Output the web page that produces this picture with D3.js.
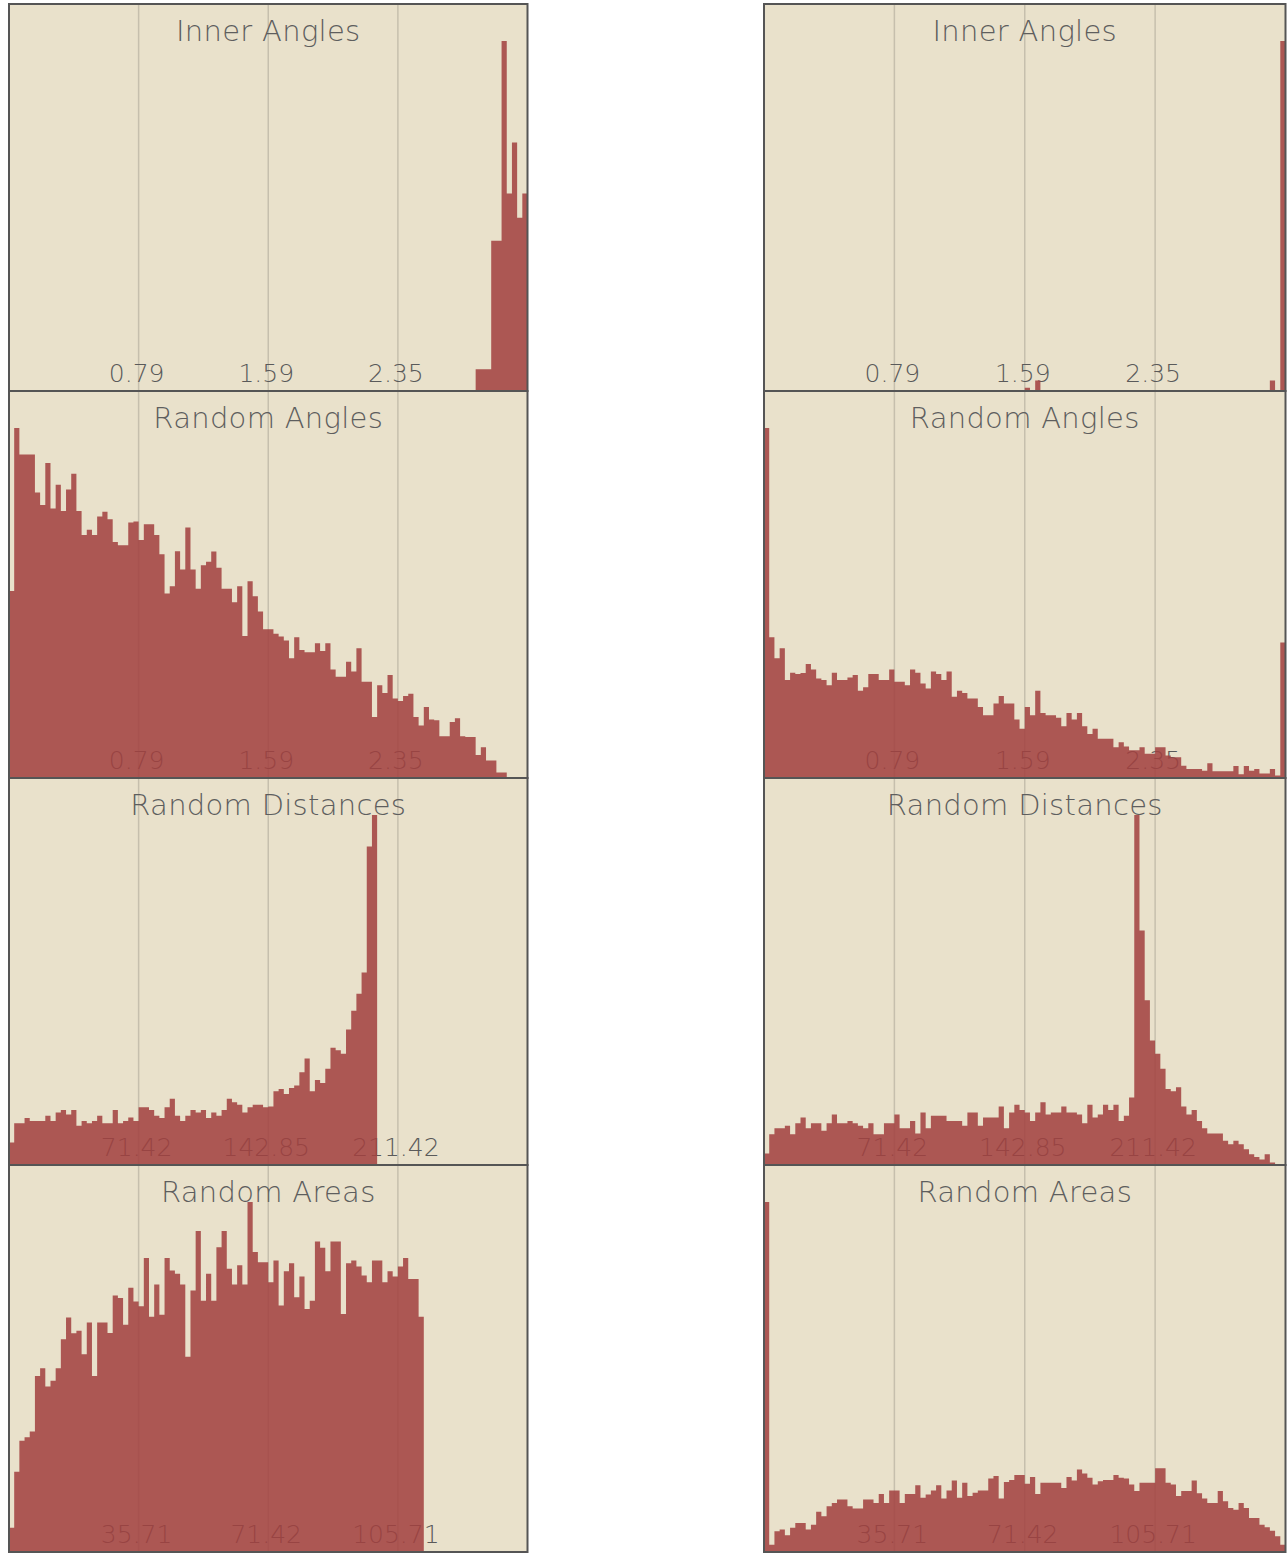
<!DOCTYPE html>
<html>
<head>
<meta charset="utf-8">
<title>Angle, distance and area histograms</title>
<script src="https://d3js.org/d3.v7.min.js"></script>
<style>
  body { margin: 0; background-color: white; }
  svg { display: block; }
</style>
</head>
<body>
<svg id="canvas" width="1288" height="1553"></svg>
<script>
// panel titles, one per row
const titles = ['Inner Angles', 'Random Angles', 'Random Distances', 'Random Areas']
// upper end of each row's x range
const rangeMax = [Math.PI, Math.PI, 285.7, 142.85]
// tick labels at the quarter marks
const angleTicks = ['0.79', '1.59', '2.35']
const distanceTicks = ['71.42', '142.85', '211.42']
const areaTicks = ['35.71', '71.42', '105.71']

// bin heights as percent of the tallest bin, 100 bins each
const innerAnglesLeft = [
  0, 0, 0, 0, 0, 0, 0, 0, 0, 0, 0, 0, 0, 0, 0, 0, 0, 0, 0, 0,
  0, 0, 0, 0, 0, 0, 0, 0, 0, 0, 0, 0, 0, 0, 0, 0, 0, 0, 0, 0,
  0, 0, 0, 0, 0, 0, 0, 0, 0, 0, 0, 0, 0, 0, 0, 0, 0, 0, 0, 0,
  0, 0, 0, 0, 0, 0, 0, 0, 0, 0, 0, 0, 0, 0, 0, 0, 0, 0, 0, 0,
  0, 0, 0, 0, 0, 0, 0, 0, 0, 0, 6.2, 6.2, 6.2, 42.9, 42.9, 100, 56.4, 71, 49.5, 56.4
]
const innerAnglesRight = [
  0, 0, 0, 0, 0, 0, 0, 0, 0, 0, 0, 0, 0, 0, 0, 0, 0, 0, 0, 0,
  0, 0, 0, 0, 0, 0, 0, 0, 0, 0, 0, 0, 0, 0, 0, 0, 0, 0, 0, 0,
  0, 0, 0, 0, 0, 0, 0, 0, 0, 0, 0.9, 0, 3, 0, 0, 0, 0, 0, 0, 0,
  0, 0, 0, 0, 0, 0, 0, 0, 0, 0, 0, 0, 0, 0, 0, 0, 0, 0, 0, 0,
  0, 0, 0, 0, 0, 0, 0, 0, 0, 0, 0, 0, 0, 0, 0, 0, 0, 3, 0, 100
]
const randomAnglesLeft = [
  53.4, 100, 92.4, 92.4, 92.4, 81.6, 78.0, 90.0, 77.0, 83.8,
  76.3, 82.4, 86.9, 76.3, 69.4, 70.9, 69.4, 74.7, 76.1, 73.9,
  67.4, 66.5, 66.5, 73.0, 73.3, 68.0, 72.5, 72.5, 69.4, 63.9,
  52.7, 54.8, 64.8, 59.6, 71.6, 59.6, 54.1, 60.8, 61.8, 64.7,
  60.1, 54.1, 54.1, 50.2, 54.8, 40.6, 56.2, 51.9, 47.6, 42.5,
  42.5, 41.2, 40.4, 39.3, 34.2, 40.2, 36.6, 35.9, 35.9, 38.5,
  36.3, 38.5, 31.0, 28.9, 28.9, 33.2, 30.4, 37.1, 27.5, 27.5,
  17.4, 26.5, 24.3, 29.4, 22.7, 22.0, 23.4, 24.1, 17.4, 15.0,
  20.3, 16.7, 16.5, 11.9, 11.9, 16.0, 17.1, 11.9, 11.7, 11.7,
  6.6, 8.8, 5.0, 5.0, 1.6, 1.6, 0, 0, 0, 0
]
const randomAnglesRight = [
  100, 40.2, 34.2, 37.1, 28.0, 30.1, 29.7, 30.0, 32.6, 31.0,
  28.4, 28.0, 26.5, 30.1, 28.0, 28.0, 28.7, 29.4, 24.9, 25.9,
  29.7, 29.7, 28.0, 28.0, 31.0, 27.5, 27.5, 26.5, 31.0, 30.1,
  27.0, 25.6, 30.4, 29.7, 28.0, 30.4, 23.2, 24.9, 24.3, 22.7,
  22.7, 20.3, 17.9, 17.9, 21.3, 23.4, 21.3, 21.3, 16.7, 14.1,
  20.3, 17.9, 24.9, 18.6, 17.9, 17.9, 17.2, 14.8, 18.6, 16.7,
  18.6, 14.8, 12.6, 14.1, 11.2, 11.2, 11.2, 8.8, 10.2, 9.0,
  7.9, 7.9, 8.8, 6.9, 6.9, 8.8, 8.8, 6.4, 5.9, 5.9,
  3.5, 2.6, 2.6, 2.6, 2.1, 4.2, 1.9, 1.9, 1.9, 1.9,
  3.4, 1.1, 3.4, 2.1, 2.6, 1.3, 1.3, 2.6, 0.7, 38.7
]
const randomDistancesLeft = [
  6.4, 11.9, 11.9, 13.4, 12.6, 12.6, 12.6, 14.1, 12.6, 15.0,
  15.7, 14.4, 15.7, 11.2, 12.6, 11.9, 12.6, 14.1, 11.9, 11.9,
  15.7, 11.9, 12.6, 13.6, 12.6, 16.5, 16.5, 15.7, 14.1, 13.4,
  16.5, 18.9, 14.1, 12.6, 14.1, 15.7, 15.0, 15.7, 13.4, 15.0,
  14.1, 15.7, 18.9, 17.9, 17.2, 15.0, 16.5, 17.2, 17.2, 16.5,
  16.7, 21.1, 21.7, 20.3, 22.0, 22.7, 26.5, 30.4, 21.1, 24.3,
  23.4, 27.5, 33.5, 32.8, 31.8, 38.7, 44.1, 48.9, 55.0, 91.0,
  100, 0, 0, 0, 0, 0, 0, 0, 0, 0,
  0, 0, 0, 0, 0, 0, 0, 0, 0, 0,
  0, 0, 0, 0, 0, 0, 0, 0, 0, 0
]
const randomDistancesRight = [
  3.3, 8.8, 10.5, 10.5, 11.2, 8.8, 11.9, 13.6, 10.5, 11.9,
  11.9, 9.8, 11.9, 14.4, 11.9, 11.9, 12.6, 11.9, 11.2, 10.5,
  11.9, 8.8, 8.8, 11.9, 11.9, 14.4, 10.5, 10.5, 12.6, 9.0,
  15.0, 10.5, 14.1, 14.1, 14.1, 12.6, 12.6, 12.6, 11.2, 15.0,
  15.0, 11.2, 13.6, 13.6, 13.6, 16.7, 10.5, 15.0, 17.2, 15.7,
  15.0, 12.6, 15.0, 17.9, 14.4, 15.0, 15.0, 16.7, 15.0, 15.0,
  14.4, 11.9, 17.2, 13.6, 14.4, 17.2, 15.7, 17.2, 12.6, 14.1,
  19.3, 100, 67.0, 47.1, 35.6, 31.8, 27.5, 21.7, 21.1, 22.2,
  16.7, 14.4, 15.7, 12.6, 10.5, 9.0, 9.0, 9.0, 6.9, 5.9,
  6.9, 5.9, 4.5, 3.1, 2.3, 1.6, 3.1, 0.7, 0, 0
]
const randomAreasLeft = [
  6.9, 22.9, 31.8, 32.8, 34.4, 50.3, 52.5, 47.3, 48.9, 52.5,
  60.8, 67.0, 62.5, 63.2, 56.5, 65.6, 50.3, 65.6, 65.6, 62.6,
  73.3, 72.6, 64.9, 75.5, 71.6, 70.2, 84.0, 67.2, 76.4, 67.8,
  84.0, 80.4, 79.5, 76.4, 55.8, 74.7, 91.7, 71.8, 79.5, 71.8,
  87.1, 91.7, 80.9, 76.4, 81.9, 76.4, 100, 85.7, 82.8, 82.8,
  77.1, 83.3, 70.4, 80.2, 82.5, 72.8, 78.7, 69.4, 71.8, 88.7,
  86.9, 80.2, 88.7, 88.7, 68.0, 82.5, 83.3, 81.6, 79.0, 77.1,
  83.3, 83.3, 77.1, 80.2, 78.7, 81.6, 84.0, 78.0, 78.0, 67.2,
  0, 0, 0, 0, 0, 0, 0, 0, 0, 0,
  0, 0, 0, 0, 0, 0, 0, 0, 0, 0
]
const randomAreasRight = [
  100, 2.1, 5.9, 6.4, 4.8, 6.9, 8.3, 8.3, 6.4, 7.8,
  11.5, 10.2, 13.1, 14.0, 15.0, 15.0, 13.1, 12.4, 12.4, 15.0,
  15.0, 14.0, 16.6, 14.0, 17.6, 17.6, 14.0, 16.6, 16.6, 19.1,
  15.5, 16.4, 17.6, 19.1, 15.3, 17.6, 20.4, 15.5, 19.8, 16.0,
  16.9, 17.6, 17.6, 21.0, 21.7, 15.3, 20.0, 20.6, 22.0, 22.0,
  19.5, 21.4, 16.6, 19.8, 19.8, 19.8, 19.8, 18.3, 21.4, 20.4,
  23.6, 22.4, 21.2, 19.3, 20.2, 20.6, 20.6, 22.0, 21.2, 21.0,
  19.3, 17.4, 19.8, 19.8, 19.8, 23.9, 23.9, 19.8, 19.3, 16.0,
  17.4, 17.4, 20.4, 16.8, 15.3, 14.0, 14.0, 17.4, 14.5, 12.6,
  12.1, 14.0, 12.6, 9.7, 9.7, 7.8, 7.1, 6.1, 4.5, 2.1
]

const series = [
  [innerAnglesLeft, innerAnglesRight],
  [randomAnglesLeft, randomAnglesRight],
  [randomDistancesLeft, randomDistancesRight],
  [randomAreasLeft, randomAreasRight]
]
const tickLabels = [angleTicks, angleTicks, distanceTicks, areaTicks]

const panelTop = 4
const panelHeight = 387
const titleBaseline = 37
const columns = [
  { left: 9, width: 518.5 },
  { left: 764, width: 521.5 }
]

const svg = d3.select('#canvas')

titles.forEach((title, row) => {
  columns.forEach((col, c) => {
    const values = series[row][c]
    const top = panelTop + row * panelHeight
    const g = svg.append('g').attr('transform', `translate(${col.left}, ${top})`)

    const x = d3.scaleLinear().domain([0, rangeMax[row]]).range([0, col.width])
    const y = d3.scaleLinear().domain([0, 100]).range([panelHeight, titleBaseline])
    const binSize = rangeMax[row] / values.length

    // panel background
    g.append('rect')
      .attr('width', col.width)
      .attr('height', panelHeight)
      .attr('fill', '#e9e1cb')

    // grid lines at the quarter marks
    const tickValues = [1, 2, 3].map(q => q * rangeMax[row] / 4)
    g.selectAll('line.grid').data(tickValues).join('line')
      .attr('class', 'grid')
      .attr('x1', d => x(d)).attr('x2', d => x(d))
      .attr('y1', 0).attr('y2', panelHeight)
      .attr('stroke', '#c6bfad')
      .attr('stroke-width', 1.5)

    g.append('text')
      .attr('x', col.width / 2)
      .attr('y', titleBaseline)
      .attr('text-anchor', 'middle')
      .attr('font-family', 'DejaVu Sans')
      .attr('font-weight', 300)
      .attr('font-size', 29)
      .attr('letter-spacing', 0.3)
      .attr('fill', '#5e5e5e')
      .text(title)

    g.selectAll('text.tick').data(tickLabels[row]).join('text')
      .attr('class', 'tick')
      .attr('x', (d, i) => x(tickValues[i]) - 2)
      .attr('y', panelHeight - 9)
      .attr('text-anchor', 'middle')
      .attr('font-family', 'DejaVu Sans')
      .attr('font-weight', 300)
      .attr('font-size', 25)
      .attr('fill', '#5a5a5a')
      .text(d => d)

    // histogram as one stepped area so the translucent fill has no seams
    const points = values.map((v, i) => [i, v]).concat([[values.length, values[values.length - 1]]])
    const area = d3.area()
      .curve(d3.curveStepAfter)
      .x(d => x(d[0] * binSize))
      .y0(y(0))
      .y1(d => y(d[1]))
    g.append('path')
      .datum(points)
      .attr('d', area)
      .attr('fill', '#a2403f')
      .attr('fill-opacity', 0.86)

    // border
    g.append('rect')
      .attr('width', col.width)
      .attr('height', panelHeight)
      .attr('fill', 'none')
      .attr('stroke', '#555')
      .attr('stroke-width', 2)
  })
})
</script>
</body>
</html>
